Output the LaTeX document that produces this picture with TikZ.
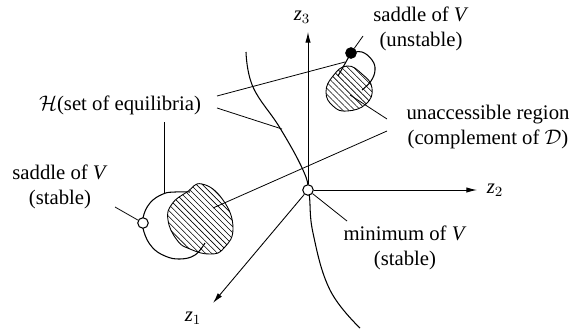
\documentclass[tikz,border=0pt]{standalone}
\usepackage{fontspec}
\setmainfont{Liberation Serif}
\usetikzlibrary{arrows.meta,patterns.meta}

\tikzset{
  curve/.style={line width=.6pt},
  leader/.style={line width=.45pt},
  axis/.style={line width=.5pt,-{Latex[length=6pt,width=3pt]}},
  hatched/.style={line width=.5pt,pattern={Lines[angle=-45,distance=2.4pt,line width=.35pt]}},
  point/.style={circle,draw,line width=.6pt,fill=white,inner sep=0pt,minimum size=6pt},
  label/.style={align=center,font=\fontsize{11.8}{13.8}\selectfont,inner sep=0pt}
}

\begin{document}
\begin{tikzpicture}[x=0.02cm,y=-0.02cm]
\useasboundingbox (0,0) rectangle (581,328);

% unaccessible regions
\draw [hatched] plot[smooth cycle, tension=.8] coordinates {(202,184) (223,200) (233,228) (224,248) (210,254) (190,249) (177,240) (168,220) (172,204) (187,192)};
\draw [hatched] plot[smooth cycle, tension=.8] coordinates {(347,66) (362,74) (372,88) (366,104) (347,111) (333,106) (326,92) (333,76)};

% set of equilibria
\draw [curve] plot[smooth, tension=.7] coordinates {(246,52) (253,87) (280,128) (303,170) (309,193) (313,233) (330,290) (360,328)};
\draw [curve] plot[smooth, tension=.7] coordinates {(190,192) (175,192) (163,194) (150,203) (143,218) (144,232) (152,247) (165,256) (180,259) (195,255) (205,243)};
\draw [curve] plot[smooth, tension=.7] coordinates {(351,53) (362,52) (372,60) (375,70) (371,81) (362,90)};
\draw [curve] (351,53) -- (338,76);

% axes
\coordinate (z1tip) at (213,303);
\coordinate (z2tip) at (477,190);
\coordinate (z3tip) at (308,32);
\node [point] (minpt) at (308,190) {};
\draw [axis] (minpt) -- (z1tip);
\draw [axis] (minpt) -- (z2tip);
\draw [axis] (minpt) -- (z3tip);
\node [label] (zone) at (193,318) {$\textit{z}_1$};
\node [label] (ztwo) at (495,190) {$\textit{z}_2$};
\node [label] (zthree) at (302,17) {$\textit{z}_3$};

\node [point] (saddlestable) at (143,223) {};
\node [point,fill=black] (saddleunstable) at (351,53) {};

% labels
\node [label] (equilibria) at (120,105) {$\mathcal{H}$(set of equilibria)};
\node [label] (stablelabel) at (60,187) {saddle of \textit{V}\\(stable)};
\node [label] (unstablelabel) at (421,29) {saddle of \textit{V}\\(unstable)};
\node [label] (regionlabel) at (488,127) {unaccessible region\\(complement of $\mathcal{D}$)};
\node [label] (minlabel) at (405,248) {minimum of \textit{V}\\(stable)};

% leaders
\coordinate (hone) at (217,96);
\coordinate (htwo) at (217,108);
\coordinate (hthree) at (164,122);
\coordinate (honeend) at (345,62);
\coordinate (htwoend) at (282,129);
\coordinate (hthreeend) at (164,193);
\draw [leader] (hone) -- (honeend);
\draw [leader] (htwo) -- (htwoend);
\draw [leader] (hthree) -- (hthreeend);
\coordinate (rone) at (387,119);
\coordinate (roneend) at (350,95);
\coordinate (rtwo) at (387,131);
\coordinate (rtwoend) at (213,208);
\draw [leader] (rone) -- (roneend);
\draw [leader] (rtwo) -- (rtwoend);
\coordinate (sone) at (115,207);
\draw [leader] (sone) -- (saddlestable);
\coordinate (utop) at (363,36);
\draw [leader] (utop) -- (saddleunstable);
\coordinate (mone) at (347,221);
\draw [leader] (mone) -- (minpt);
\end{tikzpicture}
\end{document}
